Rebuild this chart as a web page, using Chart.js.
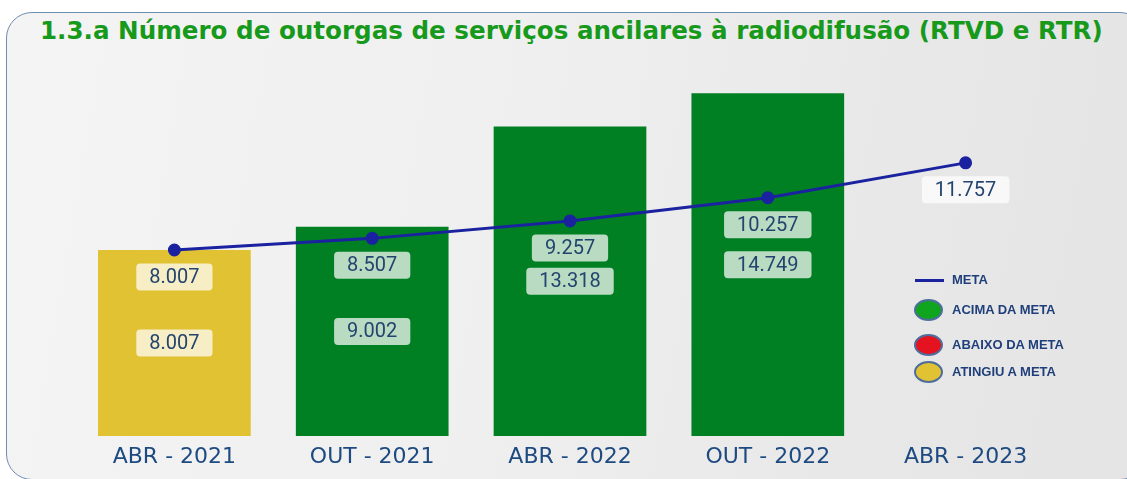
<!DOCTYPE html>
<html>
<head>
<meta charset="utf-8">
<script src="https://cdn.jsdelivr.net/npm/chart.js@4/dist/chart.umd.min.js"></script>
<style>
  html, body { margin: 0; padding: 0; background: #ffffff; }
  #wrap { position: relative; width: 1127px; height: 479px; overflow: hidden; }
  #panel {
    position: absolute; left: 6px; top: 12px; width: 1140px; height: 468px;
    border: 1.5px solid #6f8db0; border-radius: 26px; box-sizing: border-box;
    background: linear-gradient(100deg, #f4f4f4 0%, #efefef 45%, #e8e8e8 75%, #e4e4e4 100%);
  }
  #titulo {
    position: absolute; left: 40px; top: 17px; margin: 0;
    font: bold 24.6px/28px "DejaVu Sans", Verdana, sans-serif; color: #17991c;
    white-space: nowrap;
  }
  #grafico { position: absolute; left: 0; top: 0; }
  .leg { position: absolute; left: 914px; font: bold 13px "Liberation Sans", Arial, sans-serif; color: #1f3f7a; }
  .leg span { position: absolute; left: 38px; white-space: nowrap; line-height: 14px; top: -7px; }
  .leg .linha { position: absolute; left: 1px; top: -1.5px; width: 29px; height: 3px; background: #1a22a0; }
  .leg .bola { position: absolute; left: 0; top: -11px; width: 29px; height: 22px; border-radius: 50%; border: 2px solid #4f6d9c; box-sizing: border-box; }
</style>
</head>
<body>
<div id="wrap">
  <div id="panel"></div>
  <h1 id="titulo">1.3.a Número de outorgas de serviços ancilares à radiodifusão (RTVD e RTR)</h1>
  <canvas id="grafico" width="1127" height="479"></canvas>
  <div class="leg" style="top:280px"><div class="linha"></div><span>META</span></div>
  <div class="leg" style="top:310px"><div class="bola" style="background:#0fa51f"></div><span>ACIMA DA META</span></div>
  <div class="leg" style="top:345px"><div class="bola" style="background:#e5121f"></div><span>ABAIXO DA META</span></div>
  <div class="leg" style="top:372px"><div class="bola" style="background:#e0c232"></div><span>ATINGIU A META</span></div>
</div>
<script>
// dados
const periodos = ['ABR - 2021', 'OUT - 2021', 'ABR - 2022', 'OUT - 2022', 'ABR - 2023'];
const realizado = [8007, 9002, 13318, 14749, null];
const meta = [8007, 8507, 9257, 10257, 11757];
const situacao = ['atingiu', 'acima', 'acima', 'acima', null];

const CORES = { acima: '#007f23', abaixo: '#e5121f', atingiu: '#e0c232' };

function formataNumero(v) {
    // separador de milhar no padrao brasileiro
    return String(v).replace(/\B(?=(\d{3})+(?!\d))/g, '.');
}

function caixaTexto(ctx, texto, x, y) {
    ctx.font = '20px Roboto, sans-serif';
    const w = ctx.measureText(texto).width + 26;
    const h = 27;
    ctx.fillStyle = 'rgba(255,255,255,0.72)';
    ctx.beginPath();
    ctx.roundRect(x - w / 2, y - h / 2, w, h, 4);
    ctx.fill();
    ctx.fillStyle = '#23446f';
    ctx.textAlign = 'center';
    ctx.textBaseline = 'middle';
    ctx.fillText(texto, x, y + 1);
}

// rotulos das barras (no meio) e da meta (abaixo do ponto)
const rotulos = {
    id: 'rotulos',
    afterDatasetsDraw(chart) {
        const ctx = chart.ctx;
        ctx.save();
        chart.getDatasetMeta(1).data.forEach((bar, i) => {
            if (realizado[i] == null) return;
            caixaTexto(ctx, formataNumero(realizado[i]), bar.x, (bar.y + bar.base) / 2);
        });
        chart.getDatasetMeta(0).data.forEach((pt, i) => {
            caixaTexto(ctx, formataNumero(meta[i]), pt.x, pt.y + 27);
        });
        ctx.restore();
    }
};

new Chart(document.getElementById('grafico'), {
    data: {
        labels: periodos,
        datasets: [
            {
                type: 'line',
                label: 'META',
                data: meta,
                borderColor: '#1a22a0',
                backgroundColor: '#1a22a0',
                borderWidth: 3,
                pointRadius: 5,
                tension: 0,
                order: 0
            },
            {
                type: 'bar',
                label: 'Realizado',
                data: realizado,
                backgroundColor: situacao.map(s => s ? CORES[s] : 'transparent'),
                barPercentage: 0.772,
                categoryPercentage: 1,
                order: 1
            }
        ]
    },
    plugins: [rotulos],
    options: {
        responsive: false,
        animation: false,
        layout: { padding: { left: 75.5, right: 62.5, top: 64.3, bottom: 0.6 } },
        plugins: {
            legend: { display: false },
            tooltip: { enabled: false }
        },
        scales: {
            y: { display: false, min: 0, max: 16000 },
            x: {
                grid: { display: false, drawTicks: false },
                border: { display: false },
                ticks: {
                    padding: 8,
                    color: '#1d4a80',
                    font: { family: '"DejaVu Sans", Tahoma, sans-serif', size: 22 }
                }
            }
        }
    }
});
</script>
</body>
</html>
